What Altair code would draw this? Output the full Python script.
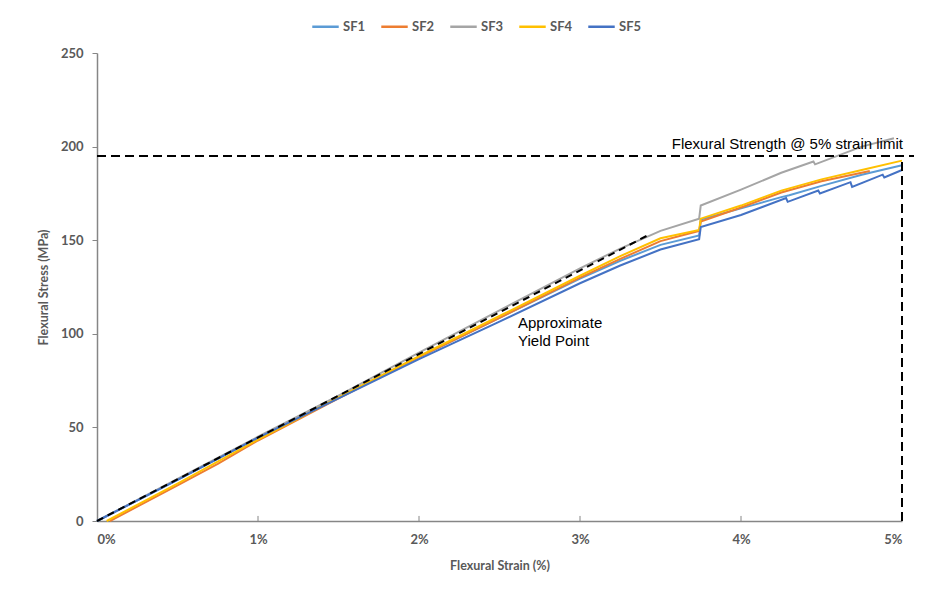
import altair as alt
import pandas as pd

# ---- data ----
sf1_strain = [0, 0.5, 1.0, 1.5, 2.0, 2.5, 3.0, 3.25, 3.5, 3.74, 3.75, 4.0, 4.25, 4.3, 4.5, 4.75, 5.0]
sf1_stress = [0, 22, 44.5, 66, 87.5, 108.5, 129.5, 139, 147.5, 152.5, 161, 167, 173, 174, 179, 185, 190]

sf2_strain = [0.08, 0.5, 0.75, 1.0, 1.5, 2.0, 2.5, 3.0, 3.25, 3.5, 3.74, 3.75, 4.0, 4.25, 4.5, 4.8]
sf2_stress = [0, 19, 30.5, 43, 65.5, 87.5, 108.5, 130, 140, 149.5, 155, 160, 167.5, 175.5, 181.5, 187]

sf3_strain = [0, 0.5, 1.0, 1.5, 2.0, 2.5, 3.0, 3.25, 3.5, 3.74, 3.75, 4.0, 4.25, 4.45, 4.46, 4.75, 4.95]
sf3_stress = [0, 22.5, 45, 67, 90, 112.5, 135, 145.5, 155, 161.5, 168.5, 177, 186, 192, 190.5, 200, 204.5]

sf4_strain = [0.06, 0.5, 1.0, 1.5, 2.0, 2.5, 3.0, 3.25, 3.5, 3.74, 3.75, 4.0, 4.25, 4.5, 4.75, 5.0]
sf4_stress = [0, 20, 43.5, 66, 88, 109.5, 131, 141.5, 151, 155.5, 161.5, 168.5, 176.5, 182.5, 187.5, 192.5]

sf5_strain = [0, 0.5, 1.0, 1.5, 2.0, 2.5, 3.0, 3.25, 3.5, 3.74, 3.75, 4.0, 4.28, 4.29, 4.48, 4.49, 4.68, 4.69, 4.88, 4.89, 5.0]
sf5_stress = [0, 22, 44.5, 65.5, 86.5, 106.5, 127, 136.5, 145, 150.5, 157, 163.5, 172.5, 170.5, 176.5, 175, 181, 178.5, 185, 183.5, 187.5]

series_names = ["SF1", "SF2", "SF3", "SF4", "SF5"]
series_colors = ["#5B9BD5", "#ED7D31", "#A5A5A5", "#FFC000", "#4472C4"]

yield_strain = [0, 3.43]
yield_stress = [0, 153]

strength_level = 195
strain_limit = 5
strength_line_end = 5.12

x_ticks = [0, 1, 2, 3, 4, 5]
y_ticks = [0, 50, 100, 150, 200, 250]

# ---- build tables ----
rows = []
for name, xs, ys in zip(series_names,
                        [sf1_strain, sf2_strain, sf3_strain, sf4_strain, sf5_strain],
                        [sf1_stress, sf2_stress, sf3_stress, sf4_stress, sf5_stress]):
    for i, (a, b) in enumerate(zip(xs, ys)):
        rows.append({"series": name, "strain": a, "stress": b, "order": i})
df = pd.DataFrame(rows)

W, H = 805, 468

xscale = alt.Scale(domain=[0, 5], nice=False, zero=True)
yscale = alt.Scale(domain=[0, 250], nice=False)

gray = "#595959"
font = "Lato"

lines = alt.Chart(df).mark_line(strokeWidth=2, clip=False).encode(
    x=alt.X("strain:Q", scale=xscale,
            axis=alt.Axis(values=x_ticks, labelExpr="datum.value + '%'",
                          title="Flexural Strain (%)", tickSize=0, grid=False,
                          domainColor="#868686", domainWidth=1.5,
                          labelFont=font, labelFontSize=13, labelFontWeight="bold",
                          labelColor=gray, labelPadding=12,
                          titleFont=font, titleFontSize=12.5, titleFontWeight="bold",
                          titleColor=gray, titlePadding=13)),
    y=alt.Y("stress:Q", scale=yscale,
            axis=alt.Axis(values=y_ticks, title="Flexural Stress (MPa)", grid=False,
                          tickSize=5, tickColor="#868686", domainColor="#868686",
                          domainWidth=1.5,
                          labelFont=font, labelFontSize=13, labelFontWeight="bold",
                          labelColor=gray, labelPadding=9,
                          titleFont=font, titleFontSize=12.5, titleFontWeight="bold",
                          titleColor=gray, titlePadding=10)),
    color=alt.Color("series:N", scale=alt.Scale(domain=series_names, range=series_colors),
                    legend=alt.Legend(orient="none", direction="horizontal",
                                      legendX=214, legendY=-41, title=None,
                                      symbolType="stroke", symbolSize=700,
                                      symbolStrokeWidth=2.5, columnPadding=10,
                                      labelFont=font, labelFontSize=13,
                                      labelFontWeight="bold", labelColor=gray,
                                      labelOffset=3)),
    order="order:Q",
)

# x-axis ticks pointing up (inside)
tick_df = pd.DataFrame({"strain": x_ticks[1:], "y0": [0] * 5, "y1": [2.7] * 5})
xticks = alt.Chart(tick_df).mark_rule(color="#868686", strokeWidth=1).encode(
    x=alt.X("strain:Q", scale=xscale), y=alt.Y("y0:Q", scale=yscale), y2="y1:Q")

yield_df = pd.DataFrame({"strain": yield_strain, "stress": yield_stress})
yield_line = alt.Chart(yield_df).mark_line(color="black", strokeWidth=2,
                                           strokeDash=[7, 5]).encode(
    x=alt.X("strain:Q", scale=xscale), y=alt.Y("stress:Q", scale=yscale))

h_df = pd.DataFrame({"x0": [0], "x1": [strength_line_end], "y": [strength_level]})
h_line = alt.Chart(h_df).mark_rule(color="black", strokeWidth=2, strokeDash=[9, 5],
                                   clip=False).encode(
    x=alt.X("x0:Q", scale=xscale), x2="x1:Q", y=alt.Y("y:Q", scale=yscale))

v_df = pd.DataFrame({"x": [strain_limit], "y0": [0], "y1": [strength_level]})
v_line = alt.Chart(v_df).mark_rule(color="black", strokeWidth=2, strokeDash=[9, 5]).encode(
    x=alt.X("x:Q", scale=xscale), y=alt.Y("y0:Q", scale=yscale), y2="y1:Q")

ann_df = pd.DataFrame({"x": [3.57, 2.615, 2.615], "y": [198.5, 103, 93.5],
                       "t": ["Flexural Strength @ 5% strain limit", "Approximate", "Yield Point"]})
ann = alt.Chart(ann_df).mark_text(align="left", baseline="alphabetic", font="Liberation Sans",
                                  fontSize=15, color="black", clip=False).encode(
    x=alt.X("x:Q", scale=xscale), y=alt.Y("y:Q", scale=yscale), text="t:N")

chart = alt.layer(lines, xticks, yield_line, h_line, v_line, ann).properties(
    width=W, height=H,
    autosize=alt.AutoSizeParams(type="none"),
    padding={"left": 89, "top": 45, "right": 12, "bottom": 60},
    background="white",
).configure_view(stroke=None)

chart.save("out.html", embed_options={"renderer": "svg", "actions": False})
